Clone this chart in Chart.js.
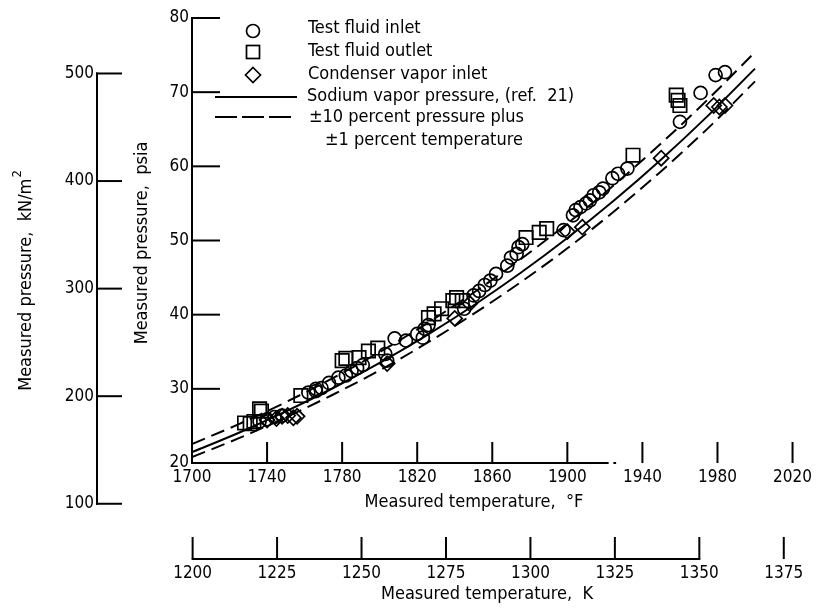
<!DOCTYPE html>
<html><head><meta charset="utf-8">
<script src="https://cdn.jsdelivr.net/npm/chart.js@4.4.1/dist/chart.umd.min.js"></script>
<style>html,body{margin:0;padding:0;background:#fff}canvas{display:block}</style>
</head><body>
<canvas id="c" width="816" height="608"></canvas>
<script>
// ---------- data ----------
const curveTempF = [1700,1725,1750,1775,1800,1825,1850,1875,1900,1925,1950,1975,2000];
const sodiumPsi  = [21.46,24.08,26.95,30.08,33.49,37.21,41.24,45.61,50.33,55.43,60.93,66.84,73.17];
const upperPsi   = [22.55,25.25,28.2,31.45,34.95,38.8,42.95,47.45,52.3,57.5,63.1,69.05,75.4];
const lowerPsi   = [20.8,23.35,26.15,29.2,32.5,36.15,40.1,44.35,48.95,53.95,59.35,65.15,71.45];

const inletTempF = [1736,1740,1744,1748,1762,1766,1766,1769,1773,1778,1782,1785,1788,1791,1803,1804,1808,1814,1820,1823,1824,1826,1845,1850,1853,1856,1859,1862,1868,1870,1873,1874,1876,1898,1903,1904.5,1907,1910,1912,1914,1917,1919,1924,1927,1932,1960,1971,1979,1984];
const inletPsi   = [25.6,25.9,26.2,26.4,29.5,30.0,29.7,30.1,30.8,31.5,31.8,32.4,32.8,33.2,34.7,33.8,36.8,36.5,37.4,36.9,38.1,38.6,40.8,42.6,43.2,44.0,44.6,45.5,46.6,47.7,48.2,49.1,49.5,51.4,53.4,54.1,54.5,55.0,55.4,56.1,56.5,57.0,58.4,59.0,59.7,66.0,69.9,72.3,72.7];

const outletTempF = [1728,1731,1733,1736,1737,1758,1780,1782,1789,1794,1799,1826,1829,1833,1839,1841,1844,1878,1885,1889,1935,1958,1959,1960];
const outletPsi   = [25.4,25.3,25.6,27.3,27.0,29.1,33.8,34.1,34.2,35.1,35.5,39.6,40.1,40.8,41.9,42.3,41.9,50.4,51.1,51.6,61.5,69.6,68.9,68.2];

const condTempF = [1740,1745,1748,1751,1754,1756,1804,1840,1848,1900,1908,1950,1978,1981,1984];
const condPsi   = [25.8,26.0,26.3,26.4,26.1,26.3,33.4,39.5,41.5,51.2,51.8,61.1,68.2,68.0,68.2];

const tickTempF = [1700,1740,1780,1820,1860,1900,1940,1980,2020];
const tickTempK = [1200,1225,1250,1275,1300,1325,1350,1375];
const tickPsi   = [20,30,40,50,60,70,80];
const tickKPa   = [100,200,300,400,500];
const axisEndF  = 1922;
const PSI_PER_KPA = 1/6.894757;

// ---------- font ----------
function hasFont(name){
  const c=document.createElement('canvas').getContext('2d');
  const s='abcdefghijklmnopqrstuvwxyz0123456789';
  c.font='40px monospace'; const a=c.measureText(s).width;
  c.font='40px "'+name+'", monospace'; const b=c.measureText(s).width;
  return Math.abs(a-b)>0.5;
}
const NARROW = hasFont('Liberation Sans Narrow');
const FAMILY = NARROW ? '"Liberation Sans Narrow", sans-serif' : '"DejaVu Sans Condensed", "DejaVu Sans", sans-serif';
const FS = NARROW ? 20 : 18;   // text
const TS = NARROW ? 19 : 17;   // tick labels
const font = (s)=> s + 'px ' + FAMILY;

const pts = (xs,ys)=> xs.map((v,i)=>({x:v,y:ys[i]}));
const K2F = k => k*1.8 - 459.67;

function seg(ctx,x1,y1,x2,y2){ctx.beginPath();ctx.moveTo(x1,y1);ctx.lineTo(x2,y2);ctx.stroke();}

const axesPlugin = {
  id:'customAxes',
  afterDraw(chart){
    const {ctx, scales:{x,y}} = chart;
    ctx.save();
    ctx.strokeStyle='#000'; ctx.fillStyle='#000'; ctx.lineWidth=2;
    const x0 = x.getPixelForValue(1700);
    const yTop = y.getPixelForValue(80), yBot = y.getPixelForValue(20);
    // psi axis
    seg(ctx,x0,yTop-1,x0,yBot+1);
    tickPsi.forEach(v=>{ if(v===20) return; const py=y.getPixelForValue(v); seg(ctx,x0-1,py,x0+28,py); });
    // deg F axis
    seg(ctx,x0-1,yBot,x.getPixelForValue(axisEndF),yBot);
    seg(ctx,x.getPixelForValue(axisEndF+2.5),yBot,x.getPixelForValue(axisEndF+4),yBot);
    tickTempF.forEach(v=>{ if(v===1700) return; const px=x.getPixelForValue(v); seg(ctx,px,yBot,px,yBot-21); });
    // kN/m2 axis
    const kx = 97;
    const kTop = y.getPixelForValue(500*PSI_PER_KPA), kBot = y.getPixelForValue(100*PSI_PER_KPA);
    seg(ctx,kx,kTop-1,kx,kBot+1);
    ctx.font = font(TS); ctx.textAlign='right'; ctx.textBaseline='middle';
    tickKPa.forEach(v=>{ const py=y.getPixelForValue(v*PSI_PER_KPA); seg(ctx,kx-1,py,kx+25,py); ctx.fillText(String(v),kx-3,py); });
    // K axis
    const ky = 559;
    seg(ctx,x.getPixelForValue(K2F(1200))-1,ky,x.getPixelForValue(K2F(1350))+1,ky);
    ctx.textAlign='center';
    tickTempK.forEach(v=>{ const px=x.getPixelForValue(K2F(v)); seg(ctx,px,ky,px,ky-22); ctx.fillText(String(v),px,ky+15); });
    // titles
    ctx.font = font(FS);
    ctx.fillText('Measured temperature,  \u00B0F', 474, 502);
    ctx.fillText('Measured temperature,  K', 487, 594);
    // psi title
    ctx.save(); ctx.translate(142,243); ctx.rotate(-Math.PI/2); ctx.fillText('Measured pressure,  psia',0,0); ctx.restore();
    // kN/m2 title with superscript
    ctx.save(); ctx.translate(26,281); ctx.rotate(-Math.PI/2);
    const main='Measured pressure,  kN/m';
    ctx.font=font(FS); const w1=ctx.measureText(main).width;
    ctx.font=font(Math.round(FS*0.72)); const w2=ctx.measureText('2').width;
    const start=-(w1+w2)/2;
    ctx.textAlign='left'; ctx.font=font(FS); ctx.fillText(main,start,0);
    ctx.font=font(Math.round(FS*0.72)); ctx.fillText('2',start+w1+1,-8);
    ctx.restore();
    // legend
    ctx.lineWidth=1.7;
    ctx.beginPath(); ctx.arc(253,31,6.5,0,Math.PI*2); ctx.stroke();
    ctx.strokeRect(246.5,45.5,13,13);
    ctx.beginPath(); ctx.moveTo(253,67.5); ctx.lineTo(260.5,75); ctx.lineTo(253,82.5); ctx.lineTo(245.5,75); ctx.closePath(); ctx.stroke();
    ctx.lineWidth=2;
    seg(ctx,215,97,297,97);
    ctx.setLineDash([22,5]); seg(ctx,215,117,293,117); ctx.setLineDash([]);
    ctx.font=font(FS); ctx.textAlign='left'; ctx.textBaseline='middle';
    ctx.fillText('Test fluid inlet',308,28);
    ctx.fillText('Test fluid outlet',308,51);
    ctx.fillText('Condenser vapor inlet',308,74);
    ctx.fillText('Sodium vapor pressure, (ref.  21)',307,96);
    ctx.fillText('\u00B110 percent pressure plus',309,117);
    ctx.fillText('\u00B11 percent temperature',325,140);
    ctx.restore();
  }
};

const lineDs = (label,data,dash)=>({type:'line',label,data,borderColor:'#000',borderWidth:2,borderDash:dash,pointRadius:0,fill:false,cubicInterpolationMode:'monotone',order:2});
const markDs = (label,data,style,r)=>({type:'scatter',label,data,pointStyle:style,pointRadius:r,pointBorderWidth:1.7,borderColor:'#000',backgroundColor:'rgba(0,0,0,0)',pointBackgroundColor:'rgba(0,0,0,0)',showLine:false,order:1});

new Chart(document.getElementById('c'),{
  type:'scatter',
  data:{datasets:[
    lineDs('Sodium vapor pressure, (ref. 21)',pts(curveTempF,sodiumPsi),[]),
    lineDs('+10 percent',pts(curveTempF,upperPsi),[14,7]),
    lineDs('-10 percent',pts(curveTempF,lowerPsi),[14,7]),
    markDs('Test fluid inlet',pts(inletTempF,inletPsi),'circle',6.5),
    markDs('Test fluid outlet',pts(outletTempF,outletPsi),'rect',9.5),
    markDs('Condenser vapor inlet',pts(condTempF,condPsi),'rectRot',7.5)
  ]},
  options:{
    responsive:false, animation:false, devicePixelRatio:1,
    layout:{padding:{left:152,top:18,right:18,bottom:105}},
    plugins:{legend:{display:false},tooltip:{enabled:false}},
    scales:{
      x:{type:'linear',min:1700,max:2020,
         ticks:{stepSize:40,autoSkip:false,maxRotation:0,color:'#000',font:{family:FAMILY,size:TS},padding:4,callback:v=>String(v)},
         grid:{display:false,drawTicks:false},border:{display:false},
         afterFit(s){s.height=40;}},
      y:{type:'linear',min:20,max:80,
         ticks:{stepSize:10,color:'#000',font:{family:FAMILY,size:TS},padding:3},
         grid:{display:false,drawTicks:false},border:{display:false},
         afterFit(s){s.width=40;}}
    }
  },
  plugins:[axesPlugin]
});
</script>
</body></html>
